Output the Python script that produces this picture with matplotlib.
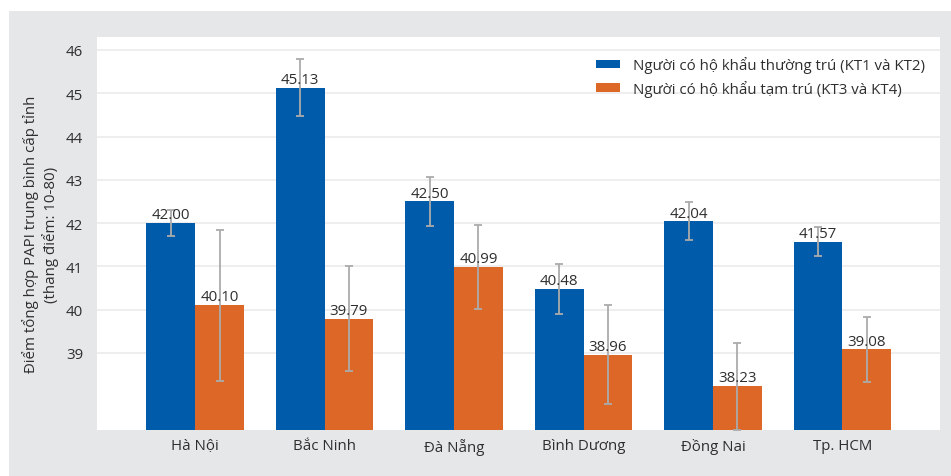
import numpy as np
import matplotlib.pyplot as plt
from matplotlib.patches import Rectangle

plt.rcParams['font.family'] = ['Open Sans', 'DejaVu Sans']

provinces = ["Hà Nội", "Bắc Ninh", "Đà Nẵng", "Bình Dương", "Đồng Nai", "Tp. HCM"]
permanent = [42.00, 45.13, 42.50, 40.48, 42.04, 41.57]
permanent_err = [0.30, 0.66, 0.56, 0.58, 0.44, 0.34]
temporary = [40.10, 39.79, 40.99, 38.96, 38.23, 39.08]
temporary_err = [1.75, 1.21, 0.97, 1.15, 1.00, 0.75]
series_names = ["Người có hộ khẩu thường trú (KT1 và KT2)",
                "Người có hộ khẩu tạm trú (KT3 và KT4)"]
yticks = [39, 40, 41, 42, 43, 44, 45, 46]

blue = "#005BAA"
orange = "#DD6726"
err_col = "#ABABAB"
text_col = "#2E2E2E"
fs = 10.8

fig = plt.figure(figsize=(9.51, 4.77), dpi=100)
fig.patches.append(Rectangle((9 / 951, 0), 1, 1 - 12 / 477, transform=fig.transFigure,
                             facecolor="#E6E7E8", edgecolor="none", zorder=-10))
ax = fig.add_axes([97 / 951, 1 - 431 / 477, 843 / 951, 393 / 477])
ax.set_facecolor("white")

x = np.arange(len(provinces))
w = 0.378
ekw = dict(ecolor=err_col, elinewidth=1.3, capsize=3, capthick=1.3)
ax.bar(x - w / 2, permanent, w, color=blue, label=series_names[0], zorder=2)
ax.bar(x + w / 2, temporary, w, color=orange, label=series_names[1], zorder=2)
ax.errorbar(x - w / 2, permanent, yerr=permanent_err, fmt="none", zorder=3, **ekw)
ax.errorbar(x + w / 2, temporary, yerr=temporary_err, fmt="none", zorder=3, **ekw)

# value labels just above each bar
for xs, vals in [(x - w / 2, permanent), (x + w / 2, temporary)]:
    for xi, v in zip(xs, vals):
        ax.text(xi, v + 0.02, f"{v:.2f}", ha="center", va="bottom",
                fontsize=fs, color=text_col, zorder=4)

ax.set_ylim(37.22, 46.3)
ax.set_xlim(-0.757, 5.753)
ax.set_yticks(yticks)
ax.set_yticklabels([str(t) for t in yticks])
ax.set_xticks(x)
ax.set_xticklabels(provinces)
ax.tick_params(axis="both", length=0, labelsize=fs, labelcolor=text_col)
ax.tick_params(axis="y", pad=10)
ax.tick_params(axis="x", pad=6)
ax.grid(axis="y", color="#EBEBEB", linewidth=1.2, zorder=0)
for s in ax.spines.values():
    s.set_visible(False)

ax.set_ylabel("Điểm tổng hợp PAPI trung bình cấp tỉnh\n(thang điểm: 10-80)",
              fontsize=fs, color=text_col, labelpad=5, linespacing=1.25)

ax.legend(loc="upper left", frameon=False, fontsize=fs, handlelength=1.6,
          handleheight=0.47, handletextpad=0.85, labelcolor=text_col,
          bbox_to_anchor=(590 / 951, 1 - 51 / 477), bbox_transform=fig.transFigure,
          borderaxespad=0, labelspacing=0.45)

fig.savefig("out.png", dpi=100)
